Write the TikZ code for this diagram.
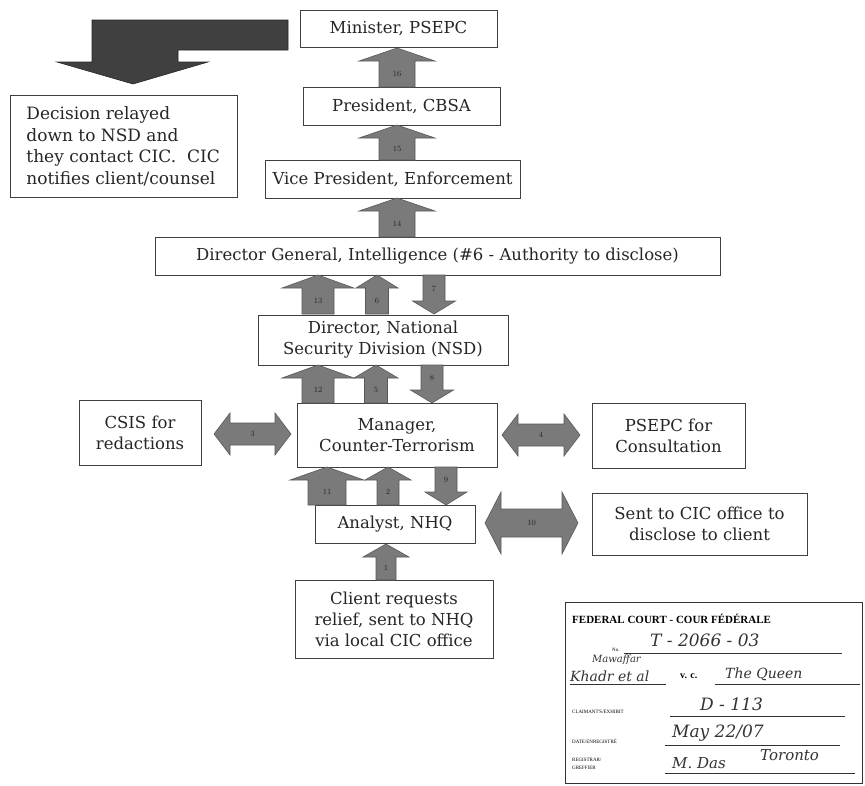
\documentclass[tikz,border=0pt]{standalone}
\usepackage{fontspec}
\newfontfamily\stampfont{Liberation Serif}
\newfontfamily\handfont{DejaVu Serif}
\newfontfamily\boxfont{DejaVu Serif}
\tikzset{
  box/.style={draw=gray!50!black, line width=0.9pt, fill=white, inner sep=0pt, align=center,
    font=\boxfont\fontsize{16.5}{21}\selectfont, text=black!85},
  arrfill/.style={fill=black!52, draw=black!65, line width=0.6pt},
  arrlab/.style={font=\fontsize{8}{9}\selectfont, text=black!85, inner sep=0pt},
  stamplab/.style={font=\stampfont\fontsize{5}{6}\selectfont, anchor=west, inner sep=0pt},
  hand/.style={font=\handfont\itshape\fontsize{17}{18}\selectfont, anchor=west, inner sep=0pt, text=black!80}
}
% up arrow: name, cx, ytop, ybot, head half width, shaft half width, label
\newcommand\blkup[7]{%
  \filldraw[arrfill] (#2-#6,#4) -- (#2-#6,#3+13) -- (#2-#5,#3+13) -- (#2,#3) -- (#2+#5,#3+13)
    -- (#2+#6,#3+13) -- (#2+#6,#4) -- cycle;
  \node[arrlab] (#1) at (#2,{(#3+#4)/2+6}) {#7};}
% down arrow: name, cx, ytop, ybot, head half width, shaft half width, label
\newcommand\blkdown[7]{%
  \filldraw[arrfill] (#2-#6,#3) -- (#2-#6,#4-13) -- (#2-#5,#4-13) -- (#2,#4) -- (#2+#5,#4-13)
    -- (#2+#6,#4-13) -- (#2+#6,#3) -- cycle;
  \node[arrlab] (#1) at (#2,{(#3+#4)/2-6}) {#7};}
% double horizontal arrow: name, xl, xr, cy, head half height, shaft half height, label
\newcommand\blkdouble[7]{%
  \filldraw[arrfill] (#2,#4) -- (#2+16,#4-#5) -- (#2+16,#4-#6) -- (#3-16,#4-#6) -- (#3-16,#4-#5)
    -- (#3,#4) -- (#3-16,#4+#5) -- (#3-16,#4+#6) -- (#2+16,#4+#6) -- (#2+16,#4+#5) -- cycle;
  \node[arrlab] (#1) at ({(#2+#3)/2},#4) {#7};}
\begin{document}
\begin{tikzpicture}[x=1pt,y=-1pt]
\useasboundingbox (0,0) rectangle (865,785);
\fill[white] (0,0) rectangle (865,785);

% big dark bent arrow
\filldraw[fill=black!75, draw=black!85, line width=0.6pt]
  (288,20) -- (92,20) -- (92,62) -- (57,62) -- (133,84) -- (208,62) -- (178,62) -- (178,50) -- (288,50) -- cycle;

% boxes
\node[box, minimum width=197pt, minimum height=37pt] (min) at (398.5,28.5) {Minister, PSEPC};
\node[box, minimum width=197pt, minimum height=38pt] (pres) at (401.5,106) {President, CBSA};
\node[box, minimum width=255pt, minimum height=38pt] (vp) at (392.5,179) {Vice President, Enforcement};
\node[box, minimum width=565pt, minimum height=38pt] (dg) at (437.5,256) {Director General, Intelligence (\#6 - Authority to disclose)};
\node[box, minimum width=250pt, minimum height=50pt] (nsd) at (383,340) {Director, National\\Security Division (NSD)};
\node[box, minimum width=200pt, minimum height=64pt] (mgr) at (397,435) {Manager,\\Counter-Terrorism};
\node[box, minimum width=122pt, minimum height=65pt] (csis) at (140,432.5) {CSIS for\\redactions};
\node[box, minimum width=153pt, minimum height=65pt] (psepc) at (668.5,435.5) {PSEPC for\\Consultation};
\node[box, minimum width=160pt, minimum height=38pt] (ana) at (395,524) {Analyst, NHQ};
\node[box, minimum width=215pt, minimum height=62pt] (cic) at (699.5,524) {Sent to CIC office to\\disclose to client};
\node[box, minimum width=198pt, minimum height=78pt] (cli) at (394,619) {Client requests\\relief, sent to NHQ\\via local CIC office};
\node[box, minimum width=227pt, minimum height=102pt] (decbox) at (123.5,146.5) {};
\node[box, anchor=west, align=left, draw=none, fill=none, font=\boxfont\fontsize{17}{21.5}\selectfont] (dec) at (26,146.5)
  {Decision relayed\\down to NSD and\\they contact CIC.\ \ CIC\\notifies client/counsel};

% vertical arrows, top chain
\blkup{a16}{397}{48}{87}{38}{18}{16}
\blkup{a15}{397}{125}{160}{38}{18}{15}
\blkup{a14}{397}{198}{237}{38}{18}{14}

% DG - NSD
\blkup{a13}{318}{275}{314}{36}{16}{13}
\blkup{a6}{377}{275}{314}{21}{11.5}{6}
\blkdown{a7}{434}{275}{314}{21.5}{11}{7}

% NSD - Manager
\blkup{a12}{318}{365}{403}{36}{16}{12}
\blkup{a5}{376}{365}{403}{22}{11.5}{5}
\blkdown{a8}{432}{365}{403}{21.5}{11}{8}

% Manager - Analyst
\blkup{a11}{327}{467}{505}{37}{19}{11}
\blkup{a2}{388}{467}{505}{23}{11}{2}
\blkdown{a9}{446}{467}{505}{21}{11}{9}

% Client - Analyst
\blkup{a1}{386}{544}{580}{23}{10}{1}

% horizontal double arrows
\blkdouble{a3}{214}{291}{434}{21}{11}{3}
\blkdouble{a4}{502}{580}{435}{21}{11}{4}
\blkdouble{a10}{485}{578}{523}{31}{14}{10}

% court stamp
\draw[black!80, line width=0.9pt] (565,602) rectangle (862,783);
\node[font=\stampfont\bfseries\fontsize{11}{12}\selectfont, anchor=west, inner sep=0pt] (st1) at (572,619)
  {FEDERAL COURT - COUR FÉDÉRALE};
\node[stamplab] (st2) at (612,650) {No.};
\draw[black!80, line width=0.7pt] (624,653) -- (842,653);
\node[hand] (h1) at (650,640) {T - 2066 - 03};
\node[hand, font=\handfont\itshape\fontsize{10}{11}\selectfont] (h2) at (592,660) {Mawaffar};
\node[hand, font=\handfont\itshape\fontsize{14}{15}\selectfont] (h3) at (570,676) {Khadr et al};
\node[font=\stampfont\bfseries\fontsize{10}{11}\selectfont, anchor=west, inner sep=0pt] (st3) at (680,676) {v. c.};
\node[hand, font=\handfont\itshape\fontsize{14}{15}\selectfont] (h4) at (725,674) {The Queen};
\draw[black!80, line width=0.7pt] (570,684) -- (666,684) (715,684) -- (860,684);
\node[stamplab] (st4) at (572,712) {CLAIMANT'S/EXHIBIT};
\draw[black!80, line width=0.7pt] (670,716) -- (845,716);
\node[hand] (h5) at (700,704) {D - 113};
\node[stamplab] (st5) at (572,741) {DATE/ENREGISTRÉ};
\draw[black!80, line width=0.7pt] (665,745) -- (840,745);
\node[hand] (h6) at (672,733) {May 22/07};
\node[stamplab] (st6) at (572,760) {REGISTRAR/};
\node[stamplab] (st7) at (572,768) {GREFFIER};
\draw[black!80, line width=0.7pt] (665,773) -- (855,773);
\node[hand, font=\handfont\itshape\fontsize{15}{16}\selectfont] (h7) at (672,763) {M. Das};
\node[hand, font=\handfont\itshape\fontsize{15}{16}\selectfont] (h8) at (760,755) {Toronto};
\end{tikzpicture}
\end{document}
